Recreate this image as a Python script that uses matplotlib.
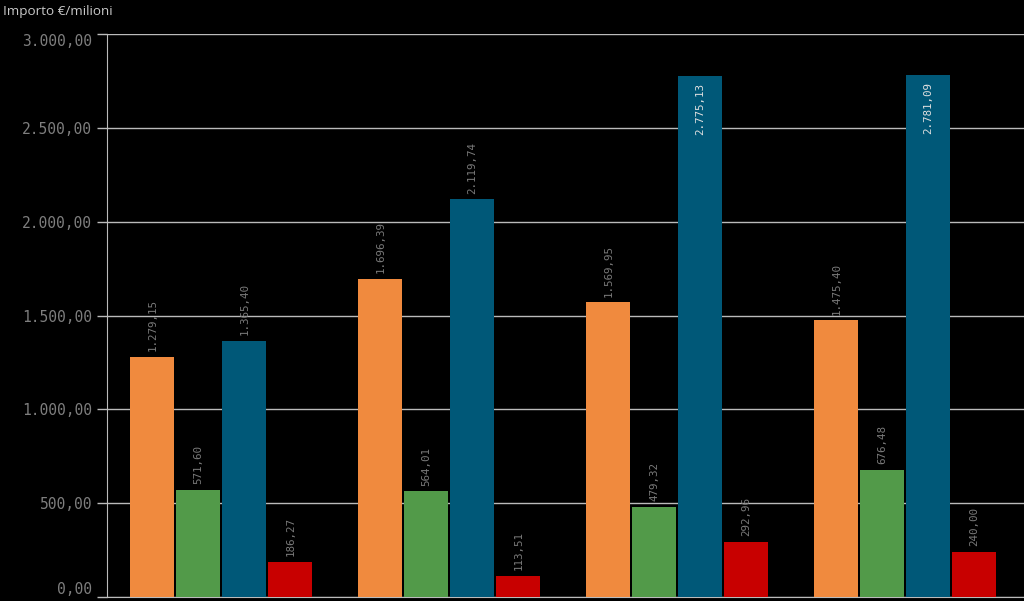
import numpy as np
import matplotlib
matplotlib.use('Agg')
import matplotlib.pyplot as plt

# values per group (4 groups, 4 series each)
orange_vals = [1279.15, 1696.39, 1569.95, 1475.40]
green_vals = [571.60, 564.01, 479.32, 676.48]
blue_vals = [1365.40, 2119.74, 2775.13, 2781.09]
red_vals = [186.27, 113.51, 292.96, 240.00]

series = [orange_vals, green_vals, blue_vals, red_vals]
colors = ['#F08A3E', '#529A49', '#005878', '#C80000']

y_ticks = [0, 500, 1000, 1500, 2000, 2500, 3000]


def it_fmt(v):
    # italian formatting: 1.234,56
    s = '{:,.2f}'.format(v)
    return s.replace(',', 'X').replace('.', ',').replace('X', '.')


fig = plt.figure(figsize=(10.24, 6.01), dpi=100, facecolor='black')
ax = fig.add_axes([107 / 1024, 4 / 601, 1 - 107 / 1024, (597 - 34) / 601])
ax.set_facecolor('black')

x = np.arange(len(orange_vals))
step = 0.2018
width = 0.193

for i, vals in enumerate(series):
    xs = x + (i - 1.5) * step
    ax.bar(xs, vals, width=width, color=colors[i], zorder=3)
    for xi, v in zip(xs, vals):
        if v > 2500:
            ax.annotate(it_fmt(v), (xi, v), xytext=(0, -5), textcoords='offset points',
                        rotation=90, ha='center', va='top', color='#e0e0e0',
                        fontsize=7.8, family='DejaVu Sans Mono', zorder=4)
        else:
            ax.annotate(it_fmt(v), (xi, v), xytext=(0, 4), textcoords='offset points',
                        rotation=90, ha='center', va='bottom', color='#7a7a7a',
                        fontsize=7.8, family='DejaVu Sans Mono', zorder=4)

ax.set_xlim(-0.502, 3.52)
ax.set_ylim(0, 3000)
ax.set_xticks([])
ax.set_yticks(y_ticks)
ax.set_yticklabels([it_fmt(t) for t in y_ticks], family='DejaVu Sans Mono',
                   fontsize=10.5, color='#7e7e7e')
ax.get_yticklabels()[-1].set_va('top')
ax.get_yticklabels()[0].set_va('bottom')
ax.tick_params(axis='y', length=7.2, width=1, color='#bbbbbb', pad=3.6)
ax.grid(axis='y', color='#bbbbbb', linewidth=1, zorder=0)

for side in ['top', 'right']:
    ax.spines[side].set_visible(False)
ax.spines['left'].set_color('#bbbbbb')
ax.spines['bottom'].set_color('#bbbbbb')

fig.text(3 / 1024, 1 - 12 / 601, 'Importo €/milioni', color='#c8c8c8',
         fontsize=9.7, family='Open Sans', va='center', ha='left')

fig.savefig('out.png', dpi=100, facecolor='black')
